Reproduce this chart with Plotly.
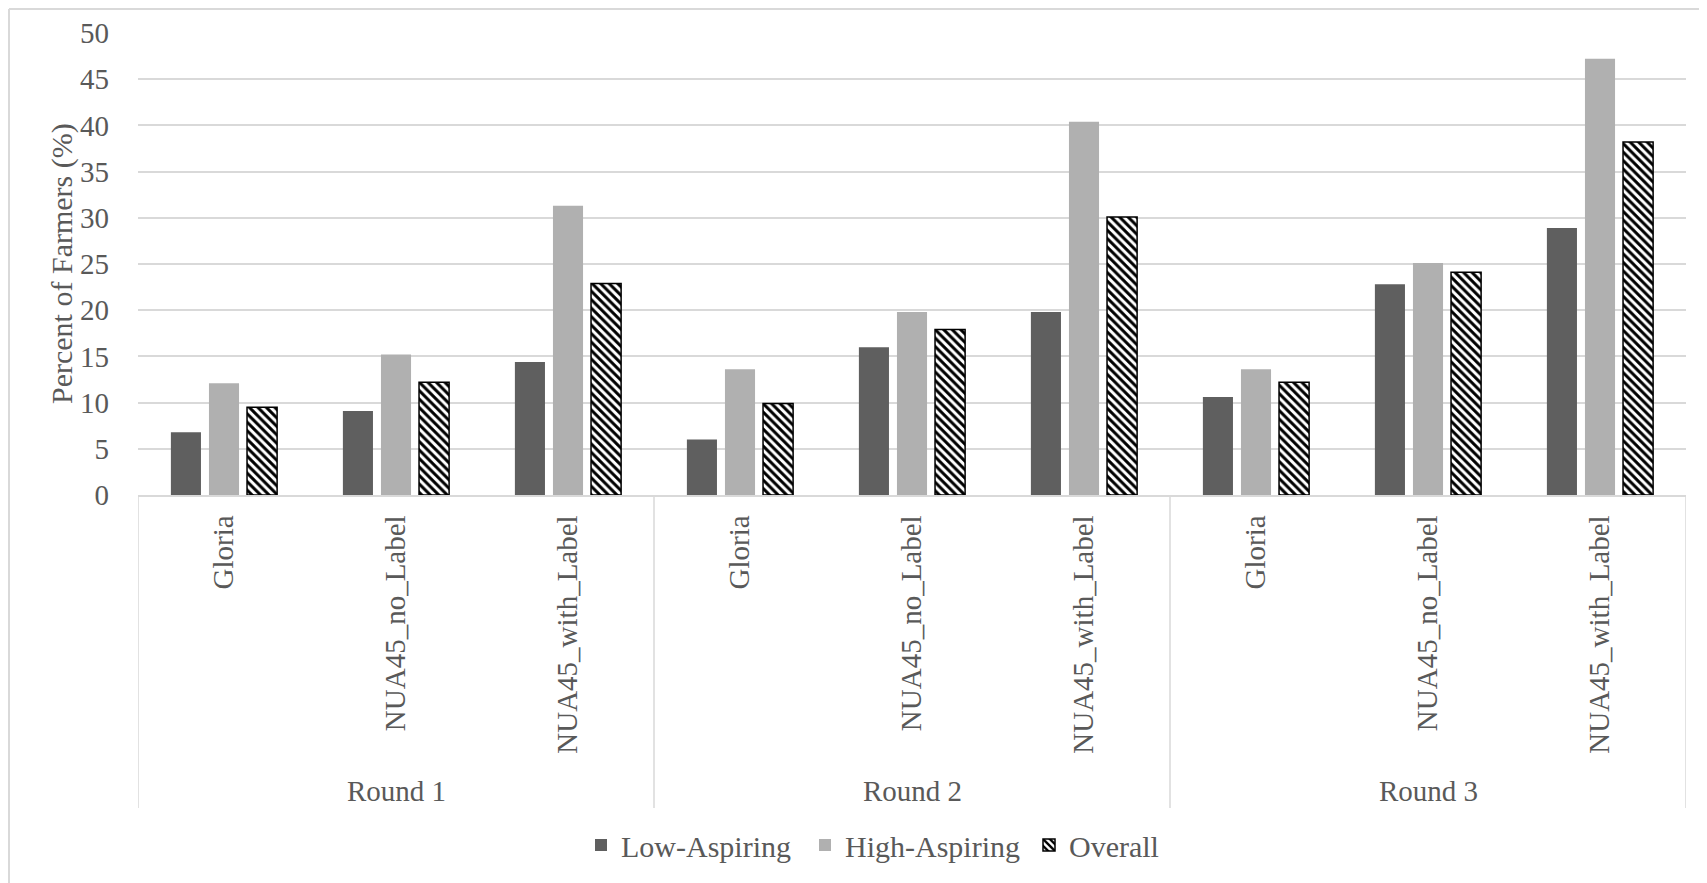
import plotly.graph_objects as go

# ---- data ----
rounds = ["Round 1", "Round 2", "Round 3"]
crops = ["Gloria", "NUA45_no_Label", "NUA45_with_Label"]
low_aspiring = [6.8, 9.1, 14.4, 6.0, 16.0, 19.8, 10.6, 22.8, 28.9]
high_aspiring = [12.1, 15.2, 31.3, 13.6, 19.8, 40.4, 13.6, 25.1, 47.2]
overall = [9.5, 12.2, 22.9, 9.9, 17.9, 30.1, 12.2, 24.1, 38.2]
y_ticks = [0, 5, 10, 15, 20, 25, 30, 35, 40, 45, 50]

# ---- derived positions ----
labels = [c for r in rounds for c in crops]
xs = list(range(len(labels)))
ncat = len(crops)

FONT = "Liberation Serif, Times New Roman, serif"
GRAY = "#595959"
GRID = "#d9d9d9"
FS = 29

OFF = 8  # page body margin
W, H = 1707 - OFF, 883 - OFF
L = 138 - OFF
T = 33 - OFF
R = 1707 - 1686
B = 883 - 495
ph = H - T - B
pw = W - L - R

def py(px):  # absolute page pixel y -> paper y
    return (H - B - (px - OFF)) / ph

def pxx(px):  # absolute page pixel x -> paper x
    return ((px - OFF) - L) / pw

fig = go.Figure()
fig.add_trace(go.Bar(x=xs, y=low_aspiring, name="Low-Aspiring",
                     marker=dict(color="#5f5f5f", line=dict(width=0))))
fig.add_trace(go.Bar(x=xs, y=high_aspiring, name="High-Aspiring",
                     marker=dict(color="#b0b0b0", line=dict(width=0))))
fig.add_trace(go.Bar(x=xs, y=overall, name="Overall",
                     marker=dict(color="white",
                                 line=dict(color="black", width=1.5),
                                 pattern=dict(shape="\\", fgcolor="black",
                                              bgcolor="white", size=6,
                                              solidity=0.5,
                                              fillmode="replace"))))

shapes = []
# group dividers below the axis
for g in range(len(rounds) + 1):
    xb = g * ncat - 0.5
    shapes.append(dict(type="line", xref="x", yref="paper",
                       x0=xb, x1=xb, y0=0, y1=py(808),
                       line=dict(color=GRID, width=1.5)))
# outer chart border (left & top)
shapes.append(dict(type="line", xref="paper", yref="paper",
                   x0=pxx(9), x1=pxx(9), y0=py(9), y1=py(900),
                   line=dict(color=GRID, width=2)))
shapes.append(dict(type="line", xref="paper", yref="paper",
                   x0=pxx(9), x1=pxx(1720), y0=py(9), y1=py(9),
                   line=dict(color=GRID, width=2)))

annotations = []
for i, r in enumerate(rounds):
    annotations.append(dict(text=r, xref="x", yref="paper",
                            x=i * ncat + (ncat - 1) / 2, y=py(791),
                            xanchor="center", yanchor="middle",
                            showarrow=False,
                            font=dict(family=FONT, size=FS, color=GRAY)))
annotations.append(dict(text="Percent of Farmers (%)", xref="paper", yref="paper",
                        x=pxx(62), y=0.5, textangle=-90,
                        xanchor="center", yanchor="middle", showarrow=False,
                        font=dict(family=FONT, size=30, color=GRAY)))

fig.update_layout(
    width=W, height=H,
    margin=dict(l=L, r=R, t=T, b=B, autoexpand=False),
    paper_bgcolor="white", plot_bgcolor="white",
    barmode="group", bargap=0.336, bargroupgap=0.21,
    font=dict(family=FONT, size=FS, color=GRAY),
    showlegend=True,
    legend=dict(orientation="h", x=pxx(581), xanchor="left",
                y=py(845), yanchor="middle", entrywidth=179,
                font=dict(family=FONT, size=30, color=GRAY),
                traceorder="normal",
                bgcolor="rgba(0,0,0,0)"),
    shapes=shapes, annotations=annotations,
)
fig.update_xaxes(range=[-0.5, len(labels) - 0.5], tickmode="array",
                 tickvals=xs, ticktext=labels, tickangle=-90,
                 ticks="", showgrid=False, zeroline=False,
                 showline=True, linecolor=GRID, linewidth=1.5,
                 ticklabelstandoff=7,
                 tickfont=dict(family=FONT, size=FS, color=GRAY))
fig.update_yaxes(range=[0, 50], tickmode="array", tickvals=y_ticks,
                 showgrid=True, gridcolor=GRID, gridwidth=1.5,
                 zeroline=False, showline=False, ticks="",
                 ticklabelstandoff=28,
                 tickfont=dict(family=FONT, size=FS, color=GRAY))

fig.write_html("out.html")
